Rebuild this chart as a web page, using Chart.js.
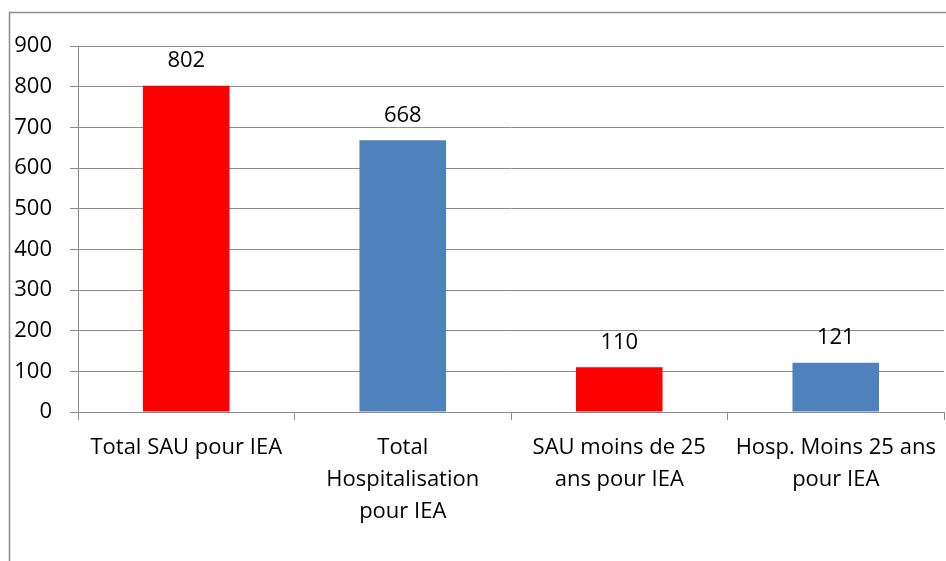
<!DOCTYPE html>
<html>
<head>
<meta charset="utf-8">
<script src="https://cdn.jsdelivr.net/npm/chart.js@4"></script>
<style>
  html, body { margin: 0; padding: 0; background: #fff; }
  #wrap { width: 946px; height: 561px; position: relative; }
</style>
</head>
<body>
<div id="wrap"><canvas id="chart"></canvas></div>
<script>
const categories = [
  ['Total SAU pour IEA'],
  ['Total', 'Hospitalisation', 'pour IEA'],
  ['SAU moins de 25', 'ans pour IEA'],
  ['Hosp. Moins 25 ans', 'pour IEA']
];
const values = [802, 668, 110, 121];
const barColors = ['#FF0000', '#4F81BD', '#FF0000', '#4F81BD'];
const yTicks = [0, 100, 200, 300, 400, 500, 600, 700, 800, 900];

const FONT = '"Open Sans", Lato, sans-serif';

// cadre extérieur (coupé à droite et en bas)
const framePlugin = {
  id: 'frame',
  beforeDraw(chart) {
    const ctx = chart.ctx;
    ctx.save();
    ctx.strokeStyle = '#8c8c8c';
    ctx.lineWidth = 1.5;
    ctx.strokeRect(9.5, 12.5, 1200, 1200);
    ctx.restore();
  }
};

// valeurs au-dessus des barres
const valueLabels = {
  id: 'valueLabels',
  afterDatasetsDraw(chart) {
    const ctx = chart.ctx;
    const meta = chart.getDatasetMeta(0);
    ctx.save();
    ctx.font = '22px ' + FONT;
    ctx.fillStyle = '#000';
    ctx.textAlign = 'center';
    ctx.textBaseline = 'middle';
    meta.data.forEach((bar, i) => {
      ctx.fillText(values[i], bar.x, bar.y - 25);
    });
    ctx.restore();
  }
};

new Chart(document.getElementById('chart'), {
  type: 'bar',
  data: {
    labels: categories,
    datasets: [{
      data: values,
      backgroundColor: barColors,
      borderWidth: 0,
      categoryPercentage: 1,
      barPercentage: 0.4
    }]
  },
  options: {
    responsive: true,
    maintainAspectRatio: false,
    animation: false,
    layout: { padding: { top: 46, right: 2, left: 0, bottom: 0 } },
    plugins: {
      legend: { display: false },
      tooltip: { enabled: false }
    },
    scales: {
      y: {
        min: 0,
        max: 900,
        afterFit(scale) { scale.width = 78; scale.paddingTop = 0; scale.paddingBottom = 0; },
        afterBuildTicks(scale) { scale.ticks = yTicks.map(v => ({ value: v })); },
        ticks: {
          color: '#000',
          padding: 18,
          font: { family: FONT, size: 22 }
        },
        grid: { color: '#8c8c8c', lineWidth: 1, tickLength: 8 },
        border: { color: '#8c8c8c', width: 1 }
      },
      x: {
        afterFit(scale) { scale.height = 149; scale.paddingLeft = 0; scale.paddingRight = 0; },
        ticks: {
          color: '#000',
          padding: 12,
          maxRotation: 0,
          autoSkip: false,
          font: { family: FONT, size: 22, lineHeight: 1.45 }
        },
        grid: { drawOnChartArea: false, color: '#8c8c8c', tickLength: 8, offset: true },
        border: { color: '#8c8c8c', width: 1 }
      }
    }
  },
  plugins: [framePlugin, valueLabels]
});
</script>
</body>
</html>
